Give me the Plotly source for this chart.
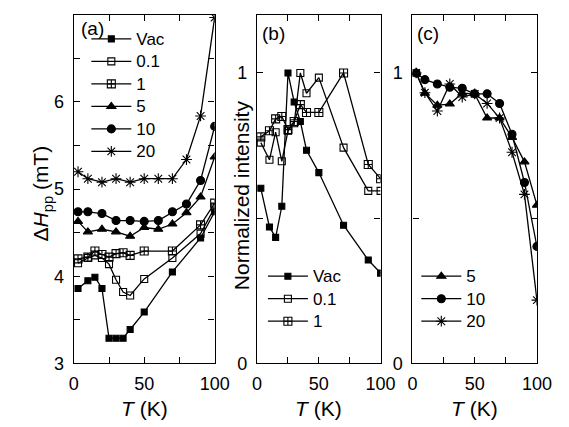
import plotly.graph_objects as go

# ---------------- data ----------------
# panel (a): linewidth dH_pp (mT) vs T (K)
T_a_low = [3, 10, 15, 20, 25, 30, 35, 40, 50, 70, 90, 100]
a_vac = [3.86, 3.95, 3.99, 3.86, 3.29, 3.29, 3.29, 3.39, 3.59, 4.05, 4.44, 4.74]
a_01 = [4.15, 4.21, 4.24, 4.21, 4.14, 3.96, 3.82, 3.78, 3.97, 4.21, 4.49, 4.79]
a_1 = [4.20, 4.22, 4.29, 4.25, 4.22, 4.26, 4.27, 4.24, 4.29, 4.29, 4.59, 4.84]
T_a_high = [3, 10, 20, 30, 40, 50, 60, 70, 80, 90, 100]
a_5 = [4.63, 4.51, 4.54, 4.51, 4.46, 4.56, 4.54, 4.60, 4.73, 4.91, 5.37]
a_10 = [4.74, 4.74, 4.72, 4.64, 4.64, 4.63, 4.64, 4.74, 4.83, 5.10, 5.72]
a_20 = [5.20, 5.12, 5.08, 5.12, 5.08, 5.12, 5.12, 5.12, 5.34, 5.84, 6.97]

# panel (b): normalized intensity, low doses
T_b = [3, 10, 15, 20, 25, 30, 35, 40, 50, 70, 90, 100]
b_vac = [0.603, 0.470, 0.434, 0.541, 1.0, 0.90, 0.833, 0.734, 0.657, 0.476, 0.356, 0.311]
b_01 = [0.760, 0.701, 0.796, 0.696, 0.801, 0.827, 1.0, 0.930, 0.984, 0.743, 0.594, 0.594]
b_1 = [0.780, 0.801, 0.842, 0.850, 0.805, 0.833, 0.891, 0.864, 0.864, 1.0, 0.685, 0.636]

# panel (c): normalized intensity, high doses
T_c = [3, 10, 20, 30, 40, 50, 60, 70, 80, 90, 100]
c_5 = [1.0, 0.93, 0.889, 0.893, 0.93, 0.928, 0.845, 0.845, 0.778, 0.694, 0.545]
c_10 = [1.0, 0.977, 0.962, 0.951, 0.947, 0.928, 0.928, 0.895, 0.789, 0.623, 0.403]
c_20 = [1.0, 0.932, 0.869, 0.962, 0.917, 0.928, 0.895, 0.845, 0.727, 0.582, 0.218]

x_ticks = [0, 50, 100]
x_minor = [25, 75]
ya_ticks = [3, 4, 5, 6]
ya_minor = [3.5, 4.5, 5.5, 6.5]
yb_ticks = [0, 1]
yb_minor = [0.5]

# ---------------- styling ----------------
FONT = "Liberation Sans, Arial, sans-serif"
W, H = 569, 427
symbols = {"Vac": "square", "0.1": "square-open", "1": "square-cross-open",
           "5": "triangle-up", "10": "circle", "20": "asterisk-open"}
msize = {"Vac": 6, "0.1": 7, "1": 8, "5": 8, "10": 8, "20": 9}

fig = go.Figure()


def add(x, y, name, xa, ya, legend):
    fig.add_trace(go.Scatter(
        x=x, y=y, name="<span style='font-size:17px'>%s</span>" % name,
        mode="lines+markers", xaxis=xa, yaxis=ya,
        legend=legend,
        line=dict(color="black", width=1.3),
        marker=dict(symbol=symbols[name], size=msize[name], color="black",
                    line=dict(color="black", width=1.1)),
    ))


add(T_a_low, a_vac, "Vac", "x", "y", "legend")
add(T_a_low, a_01, "0.1", "x", "y", "legend")
add(T_a_low, a_1, "1", "x", "y", "legend")
add(T_a_high, a_5, "5", "x", "y", "legend")
add(T_a_high, a_10, "10", "x", "y", "legend")
add(T_a_high, a_20, "20", "x", "y", "legend")

add(T_b, b_vac, "Vac", "x2", "y2", "legend2")
add(T_b, b_01, "0.1", "x2", "y2", "legend2")
add(T_b, b_1, "1", "x2", "y2", "legend2")

add(T_c, c_5, "5", "x3", "y3", "legend3")
add(T_c, c_10, "10", "x3", "y3", "legend3")
add(T_c, c_20, "20", "x3", "y3", "legend3")


def px_x(p):
    return p / W


def px_y(p):
    return 1 - p / H


ydom = [px_y(364), px_y(7)]
axis_common = dict(showline=True, linecolor="black", linewidth=1.4, mirror="ticks",
                   ticks="inside", ticklen=6, tickwidth=1.2, tickcolor="black",
                   showgrid=False, zeroline=False,
                   tickfont=dict(family=FONT, size=18, color="black"))


def minor(vals):
    return dict(tickvals=vals, ticks="inside", ticklen=6, tickwidth=1.2,
                tickcolor="black", showgrid=False)


xdoms = [[px_x(63), px_x(209)], [px_x(253), px_x(381)], [px_x(414), px_x(543)]]
for i, dom in enumerate(xdoms):
    k = "" if i == 0 else str(i + 1)
    fig.layout["xaxis" + k] = dict(domain=dom, range=[0, 100], anchor="y" + k,
                                   tickvals=x_ticks, minor=minor(x_minor),
                                   ticklabelstandoff=4, **axis_common)

fig.layout["yaxis"] = dict(domain=ydom, range=[3, 7], anchor="x",
                           tickvals=ya_ticks, minor=minor(ya_minor),
                           ticklabelstandoff=5, **axis_common)
fig.layout["yaxis2"] = dict(domain=ydom, range=[0, 1.2], anchor="x2",
                            tickvals=yb_ticks, minor=minor(yb_minor),
                            ticklabelstandoff=5, **axis_common)
fig.layout["yaxis3"] = dict(domain=ydom, range=[0, 1.2], anchor="x3",
                            tickvals=yb_ticks, minor=minor(yb_minor),
                            ticklabelstandoff=5, **axis_common)

leg_common = dict(font=dict(family=FONT, size=15, color="black"),
                  bgcolor="rgba(0,0,0,0)", borderwidth=0, itemwidth=40,
                  xanchor="left", yanchor="top", tracegroupgap=0)
fig.layout["legend"] = dict(x=px_x(76), y=px_y(15), **leg_common)
fig.layout["legend2"] = dict(x=px_x(259), y=px_y(258), **leg_common)
fig.layout["legend3"] = dict(x=px_x(418), y=px_y(258), **leg_common)

ann = []
tfont = dict(family=FONT, size=21, color="black")
for cx in [136, 317, 478]:
    ann.append(dict(text="<i>T</i> (K)", x=px_x(cx), y=px_y(410), xref="paper", yref="paper",
                    showarrow=False, font=tfont, xanchor="center", yanchor="middle"))
ann.append(dict(text="Δ<i>H</i><sub>pp</sub> (mT)", x=px_x(30), y=px_y(190), xref="paper",
                yref="paper", showarrow=False, font=tfont, textangle=-90,
                xanchor="center", yanchor="middle"))
ann.append(dict(text="Normalized intensity", x=px_x(237), y=px_y(192), xref="paper",
                yref="paper", showarrow=False, font=tfont, textangle=-90,
                xanchor="center", yanchor="middle"))
pfont = dict(family=FONT, size=19, color="black")
for txt, lx, ly in [("(a)", 68, 21), ("(b)", 256, 26), ("(c)", 417, 26)]:
    ann.append(dict(text=txt, x=px_x(lx), y=px_y(ly), xref="paper", yref="paper",
                    showarrow=False, font=pfont, xanchor="left", yanchor="middle"))

fig.update_layout(width=W, height=H, margin=dict(l=0, r=0, t=0, b=0),
                  paper_bgcolor="white", plot_bgcolor="white",
                  annotations=ann, showlegend=True,
                  font=dict(family=FONT, color="black"))

fig.write_html("out.html")
